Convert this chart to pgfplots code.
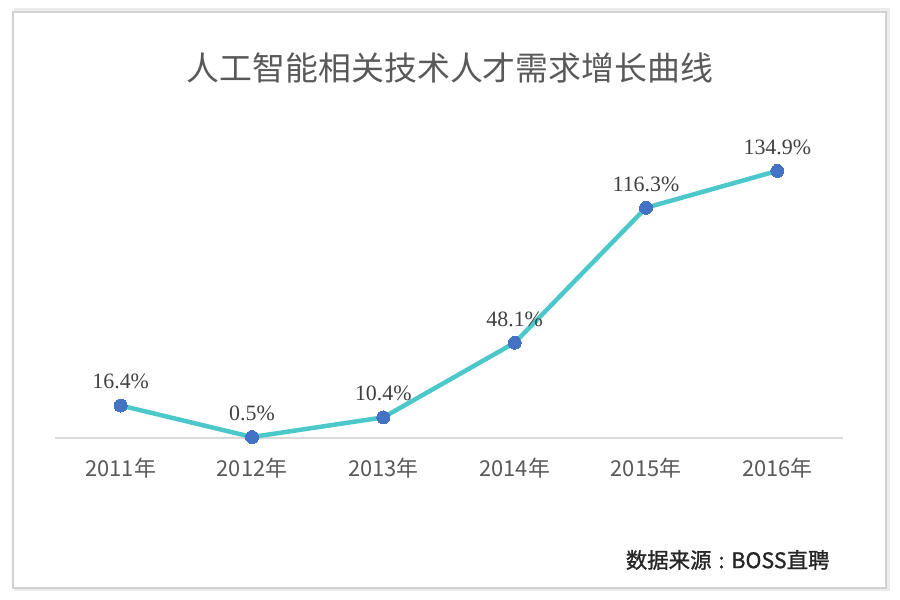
\documentclass[border=0pt]{standalone}
\usepackage{pgfplots}
\pgfplotsset{compat=1.18}
\usepackage{fontspec}
\setmainfont{Liberation Serif}
\newfontfamily\cjk{Noto Sans CJK SC}
\newfontfamily\cjkb[FakeBold=1.2]{Noto Sans CJK SC}
\definecolor{linec}{HTML}{4CC8CB}
\definecolor{markc}{HTML}{4472C4}
\definecolor{txtgray}{HTML}{595959}
\begin{document}
\begin{tikzpicture}[x=1bp,y=1bp]
\useasboundingbox (0,0) rectangle (900,600);
\fill[white] (0,0) rectangle (900,600);
% frame with faint shadow
\draw[line width=3bp,black!8] (15,10) rectangle (888,590);
\draw[line width=1.5bp,black!18,fill=white] (13,12) rectangle (886,588);
\node[txtgray,font=\cjk\fontsize{33}{36}\selectfont] at (450,532) {人工智能相关技术人才需求增长曲线};
\node[anchor=east,black!85,font=\cjkb\fontsize{21.5}{24}\selectfont] at (833,40) {数据来源\hspace{7bp}:\hspace{7bp}BOSS直聘};
\begin{axis}[
  at={(55bp,162bp)}, anchor=south west,
  scale only axis, width=788bp, height=297bp,
  xmin=-0.5, xmax=5.5, ymin=0, ymax=150,
  axis x line*=bottom, axis y line=none,
  x axis line style={black!15,line width=1.5bp,-},
  xtick={0,...,5}, major tick length=0pt,
  xticklabels={2011年,2012年,2013年,2014年,2015年,2016年},
  xticklabel style={font=\cjk\fontsize{22}{24}\selectfont,txtgray,yshift=-16bp},
  clip=false,
  nodes near coords,
  point meta=explicit symbolic,
  every node near coord/.append style={font=\fontsize{22}{24}\selectfont,black!75,anchor=south,yshift=13bp},
]
\addplot[color=linec,line width=4.5bp,mark=*,mark size=6.5bp,
  mark options={fill=markc,draw=markc,line width=0pt}]
  table[meta=label] {
x y label
0 16.4 16.4\%
1 0.5 0.5\%
2 10.4 10.4\%
3 48.1 48.1\%
4 116.3 116.3\%
5 134.9 134.9\%
};
\end{axis}
\end{tikzpicture}
\end{document}
